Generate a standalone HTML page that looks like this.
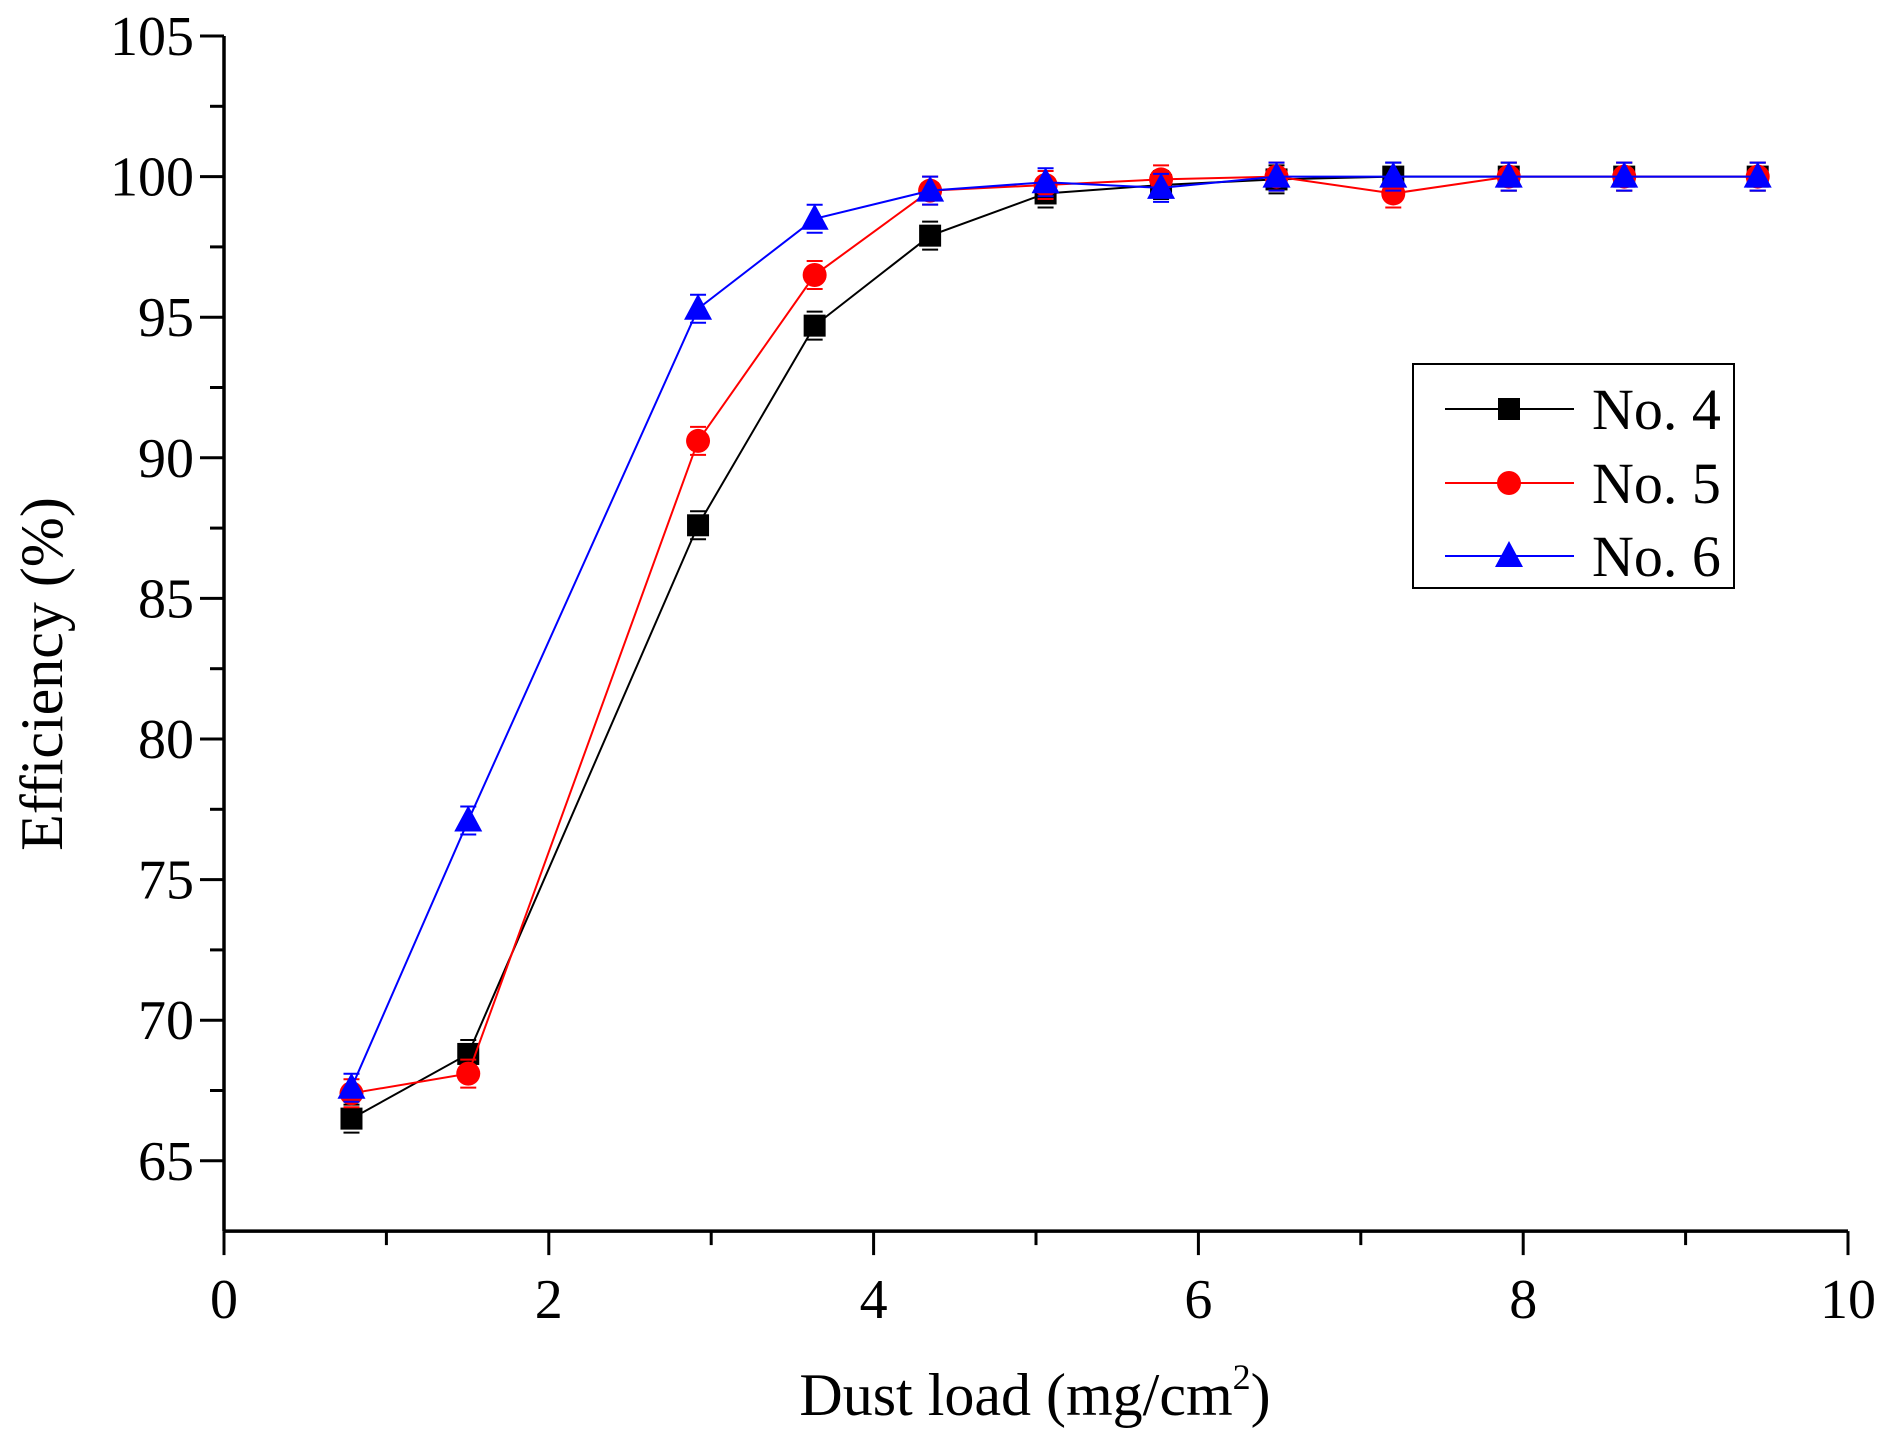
<!DOCTYPE html>
<html><head><meta charset="utf-8"><style>
html,body{margin:0;padding:0;background:#fff;}
svg{display:block;}
text{font-family:"Liberation Serif",serif;fill:#000;}
</style></head><body>
<svg id="c" width="1888" height="1442" viewBox="0 0 1888 1442" xmlns="http://www.w3.org/2000/svg"></svg>
<script>
const s=document.getElementById('c');let h='';
const X=v=>224+v*162.4, Y=v=>36+(105-v)*28.12;
const yb=Y(62.5);
h+=`<line x1="224" y1="${yb}" x2="${X(10)}" y2="${yb}" stroke="#000" stroke-width="3.5"/>`;
h+=`<line x1="224" y1="36" x2="224" y2="${yb}" stroke="#000" stroke-width="3.5"/>`;
for(let i=0;i<=10;i++){const x=X(i);const L=i%2==0?24:14;h+=`<line x1="${x}" y1="${yb}" x2="${x}" y2="${yb+L}" stroke="#000" stroke-width="3"/>`;
 if(i%2==0)h+=`<text x="${x}" y="1318" font-size="56" text-anchor="middle">${i}</text>`;}
for(let v=65;v<=105;v+=2.5){const y=Y(v);const maj=(v%5==0);h+=`<line x1="${224-(maj?24:14)}" y1="${y}" x2="224" y2="${y}" stroke="#000" stroke-width="3"/>`;
 if(maj)h+=`<text x="194" y="${y+19}" font-size="56" text-anchor="end">${v}</text>`;}
h+=`<text x="1035" y="1415" font-size="60" text-anchor="middle">Dust load (mg/cm<tspan dy="-26" font-size="36">2</tspan><tspan dy="26">)</tspan></text>`;
h+=`<text transform="translate(62,674) rotate(-90)" font-size="60" text-anchor="middle">Efficiency (%)</text>`;
const xs=[0.785,1.504,2.919,3.637,4.348,5.059,5.77,6.481,7.2,7.911,8.622,9.444];
const d4=[66.5,68.8,87.6,94.7,97.9,99.4,99.7,99.9,100,100,100,100];
const d5=[67.4,68.1,90.6,96.5,99.5,99.7,99.9,100,99.4,100,100,100];
const d6=[67.6,77.1,95.3,98.5,99.5,99.8,99.6,100,100,100,100,100];
function mk(t,x,y,c){if(t==0)return `<rect x="${x-11}" y="${y-11}" width="22" height="22" fill="${c}"/>`;
 if(t==1)return `<circle cx="${x}" cy="${y}" r="12" fill="${c}"/>`;
 return `<polygon points="${x},${y-15} ${x-14},${y+11} ${x+14},${y+11}" fill="${c}"/>`;}
[[d4,'#000',0],[d5,'#f00',1],[d6,'#00f',2]].forEach(([d,c,t])=>{
 h+=`<polyline fill="none" stroke="${c}" stroke-width="2" points="${xs.map((x,i)=>X(x)+','+Y(d[i])).join(' ')}"/>`;
 xs.forEach((x,i)=>{const px=X(x),py=Y(d[i]);h+=`<line x1="${px-8}" y1="${py+14}" x2="${px+8}" y2="${py+14}" stroke="${c}" stroke-width="2"/><line x1="${px-8}" y1="${py-14}" x2="${px+8}" y2="${py-14}" stroke="${c}" stroke-width="2"/>`;h+=mk(t,px,py,c);});
});
h+=`<rect x="1413" y="364" width="321" height="224" fill="#fff" stroke="#000" stroke-width="2"/>`;
[['No. 4','#000',0,409],['No. 5','#f00',1,483],['No. 6','#00f',2,556]].forEach(([n,c,t,y])=>{
 h+=`<line x1="1445" y1="${y}" x2="1574" y2="${y}" stroke="${c}" stroke-width="2"/>`+mk(t,1509,y,c);
 h+=`<text x="1592" y="${y+20}" font-size="58">${n}</text>`;});
s.innerHTML=h;
</script>
</body></html>
